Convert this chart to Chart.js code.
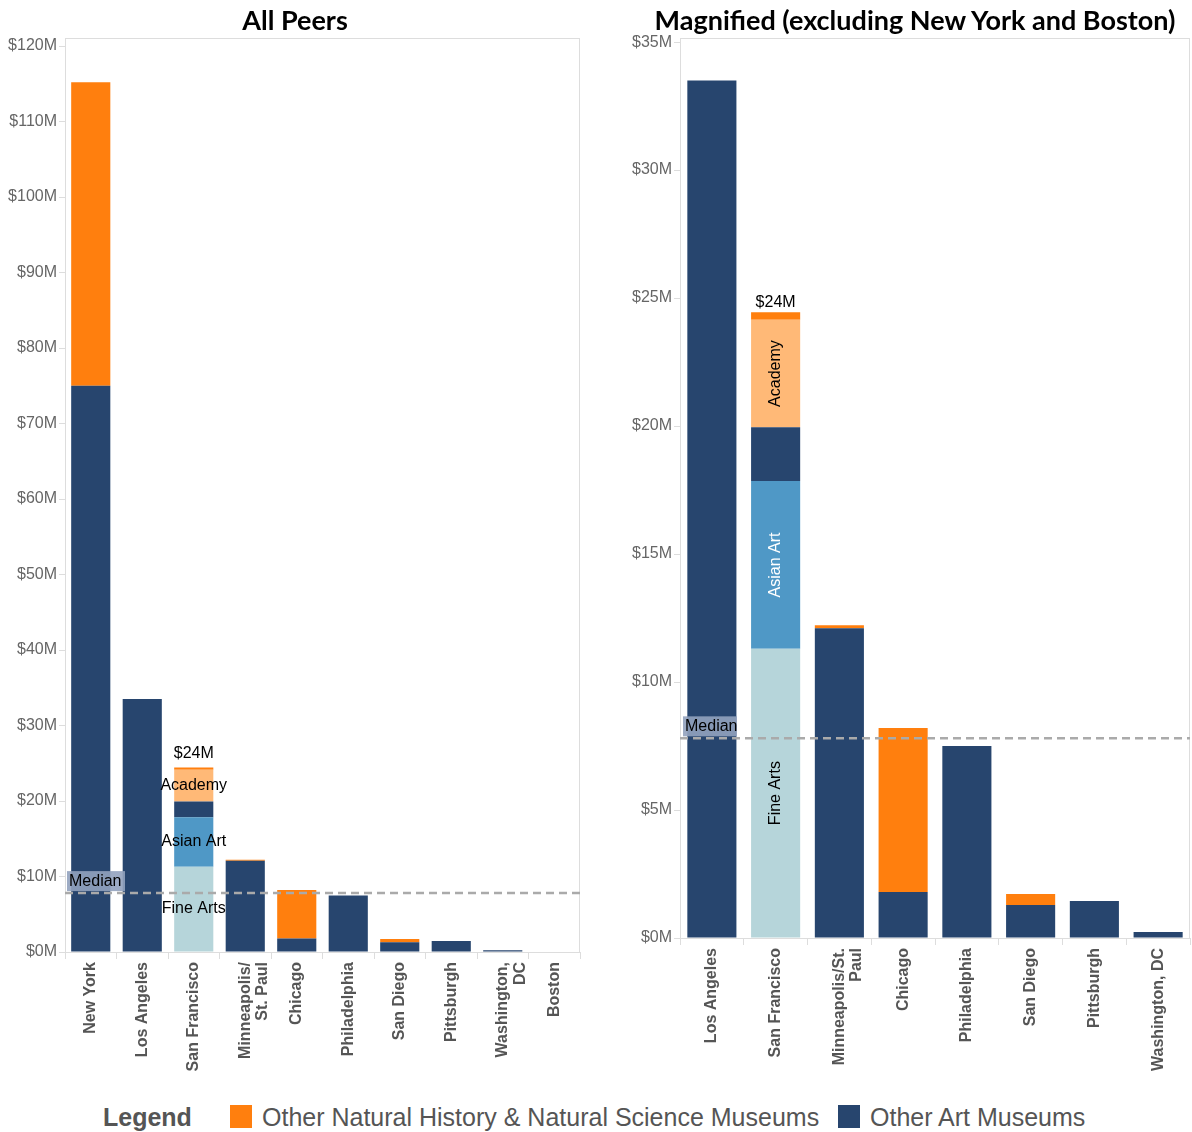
<!DOCTYPE html>
<html>
<head>
<meta charset="utf-8">
<script src="https://cdn.jsdelivr.net/npm/chart.js@4"></script>
<style>
  body { margin: 0; width: 1192px; height: 1132px; background: #fff; position: relative; overflow: hidden; font-family: 'Liberation Sans', Arial, sans-serif; }
  canvas { position: absolute; top: 0; }
  .title { position: absolute; top: 3px; font-family: Lato, 'Liberation Sans', sans-serif; font-weight: bold; font-size: 27px; color: #000; white-space: nowrap; transform: translateX(-50%); }
  .lg { position: absolute; top: 1102px; font-size: 25px; color: #555; white-space: nowrap; line-height: 30px; }
  .sq { position: absolute; top: 1105px; width: 22px; height: 23px; }
</style>
</head>
<body>
<canvas id="peersChart" width="590" height="1090" style="left:0"></canvas>
<canvas id="magChart" width="592" height="1090" style="left:600px"></canvas>
<div class="title" style="left:295px">All Peers</div>
<div class="title" style="left:915px">Magnified (excluding New York and Boston)</div>

<span class="lg" style="left:103px; font-weight:bold">Legend</span>
<span class="sq" style="left:230px; background:#ff7f0e"></span>
<span class="lg" style="left:262px">Other Natural History &amp; Natural Science Museums</span>
<span class="sq" style="left:838px; background:#27456e"></span>
<span class="lg" style="left:870px">Other Art Museums</span>

<script>
// values in $M
const cities = ['New York', 'Los Angeles', 'San Francisco', 'Minneapolis/St. Paul', 'Chicago', 'Philadelphia', 'San Diego', 'Pittsburgh', 'Washington, DC', 'Boston'];
const peersLabels = ['New York', 'Los Angeles', 'San Francisco', ['Minneapolis/', 'St. Paul'], 'Chicago', 'Philadelphia', 'San Diego', 'Pittsburgh', ['Washington,', 'DC'], 'Boston'];
const magLabels = ['Los Angeles', 'San Francisco', ['Minneapolis/St.', 'Paul'], 'Chicago', 'Philadelphia', 'San Diego', 'Pittsburgh', 'Washington, DC'];
const fineArts     = [0, 0, 11.3, 0, 0, 0, 0, 0, 0, 0];
const asianArt     = [0, 0, 6.55, 0, 0, 0, 0, 0, 0, 0];
const otherArt     = [75.0, 33.5, 2.1, 12.1, 1.8, 7.5, 1.29, 1.45, 0.23, 0];
const academy      = [0, 0, 4.2, 0, 0, 0, 0, 0, 0, 0];
const otherNatural = [40.2, 0, 0.3, 0.12, 6.4, 0, 0.43, 0, 0, 0];
const medianValue = 7.8;
const sfTotalLabel = '$24M';
const magExclude = ['New York', 'Boston'];

const colors = {
  fineArts: '#b6d5da',
  asianArt: '#4f98c6',
  otherArt: '#27456e',
  academy: '#ffb977',
  otherNatural: '#ff7f0e'
};

const FONT = "'Liberation Sans', Arial, sans-serif";

const annotPlugin = {
  id: 'annot',
  afterDatasetsDraw(chart, args, opts) {
    const { ctx, chartArea: a, scales: { y } } = chart;
    ctx.save();
    // plot frame
    ctx.strokeStyle = '#ddd';
    ctx.lineWidth = 1;
    ctx.strokeRect(a.left + 0.5, a.top + 0.5, a.width - 1, a.height);

    // median line
    const my = y.getPixelForValue(medianValue);
    ctx.setLineDash([8, 5]);
    ctx.strokeStyle = '#aaa';
    ctx.lineWidth = 2.5;
    ctx.beginPath();
    ctx.moveTo(a.left, my);
    ctx.lineTo(a.right, my);
    ctx.stroke();
    ctx.setLineDash([]);

    // median tag
    ctx.fillStyle = 'rgba(146,162,190,0.9)';
    ctx.fillRect(a.left + opts.boxDx, my - 22, opts.boxW, 20);
    ctx.fillStyle = '#000';
    ctx.font = '16px ' + FONT;
    ctx.textAlign = 'left';
    ctx.textBaseline = 'middle';
    ctx.fillText('Median', a.left + opts.boxDx + 2, my - 12);

    // San Francisco segment labels
    const sf = opts.sfIndex;
    const segs = [
      { ds: 0, text: 'Fine Arts', color: '#000' },
      { ds: 1, text: 'Asian Art', color: opts.rotate ? '#fff' : '#000' },
      { ds: 3, text: 'Academy', color: '#000' }
    ];
    ctx.textAlign = 'center';
    segs.forEach(s => {
      const bar = chart.getDatasetMeta(s.ds).data[sf];
      const cy = (bar.y + bar.base) / 2;
      ctx.fillStyle = s.color;
      if (opts.rotate) {
        ctx.save();
        ctx.translate(bar.x, cy);
        ctx.rotate(-Math.PI / 2);
        ctx.fillText(s.text, 0, 0);
        ctx.restore();
      } else {
        ctx.fillText(s.text, bar.x, cy);
      }
    });

    const top = chart.getDatasetMeta(4).data[sf];
    ctx.fillStyle = '#000';
    ctx.textBaseline = 'bottom';
    ctx.fillText(sfTotalLabel, top.x, top.y - opts.totalGap);
    ctx.restore();
  }
};

function makeChart(id, labels, keep, cfg) {
  const pick = arr => arr.filter((v, i) => keep.includes(i));
  const tickFont = { family: FONT, size: 16 };
  return new Chart(document.getElementById(id), {
    type: 'bar',
    data: {
      labels: labels,
      datasets: [
        { label: 'Fine Arts', data: pick(fineArts), backgroundColor: colors.fineArts },
        { label: 'Asian Art', data: pick(asianArt), backgroundColor: colors.asianArt },
        { label: 'Other Art Museums', data: pick(otherArt), backgroundColor: colors.otherArt },
        { label: 'Academy', data: pick(academy), backgroundColor: colors.academy },
        { label: 'Other Natural History & Natural Science Museums', data: pick(otherNatural), backgroundColor: colors.otherNatural }
      ]
    },
    options: {
      responsive: false,
      animation: false,
      layout: { padding: { top: 38, right: cfg.padRight, left: 0, bottom: 0 } },
      datasets: { bar: { categoryPercentage: 1, barPercentage: cfg.barPct } },
      plugins: {
        legend: { display: false },
        tooltip: { enabled: false },
        annot: cfg.annot
      },
      scales: {
        x: {
          stacked: true,
          grid: { offset: true, drawOnChartArea: false, tickLength: 7, color: '#ddd' },
          border: { color: '#ddd' },
          ticks: {
            autoSkip: false, maxRotation: 90, minRotation: 90, padding: 3, color: '#555',
            font: { family: FONT, size: 16, weight: 'bold', lineHeight: 1.1 }
          },
          afterFit: s => { s.height = cfg.xH; }
        },
        y: {
          stacked: true,
          min: 0,
          max: cfg.yMax,
          grid: { drawOnChartArea: false, tickLength: 6, color: '#ddd' },
          border: { color: '#ddd' },
          ticks: {
            stepSize: cfg.step, includeBounds: false, padding: 2, color: '#666', font: tickFont,
            callback: v => '$' + v + 'M'
          },
          afterFit: s => { s.width = cfg.yW; }
        }
      }
    },
    plugins: [annotPlugin]
  });
}

const allIdx = cities.map((c, i) => i);
const magIdx = allIdx.filter(i => !magExclude.includes(cities[i]));

makeChart('peersChart', peersLabels, allIdx, {
  padRight: 10, barPct: 0.76, xH: 138, yW: 65, yMax: 121.06, step: 10,
  annot: { boxDx: 2, boxW: 58, sfIndex: 2, rotate: false, totalGap: 6 }
});

makeChart('magChart', magLabels, magIdx, {
  padRight: 2, barPct: 0.77, xH: 152, yW: 80, yMax: 35.16, step: 5,
  annot: { boxDx: 3, boxW: 54, sfIndex: 1, rotate: true, totalGap: 2 }
});
</script>
</body>
</html>
